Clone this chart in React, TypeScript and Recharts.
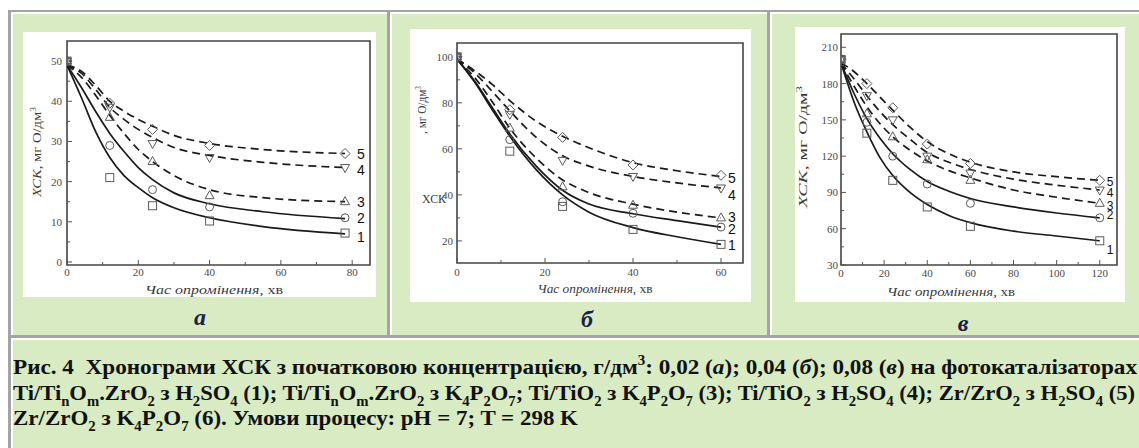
import React from "react";
import { ComposedChart, Line, Scatter, XAxis, YAxis, ReferenceArea } from "recharts";

// panel а — 0,02 г/дм3
const timeA = [0, 12, 24, 40, 78];
const codA1 = [50, 21, 14, 10.2, 7.2];
const codA2 = [50, 29, 18, 13.7, 11];
const codA3 = [50, 36, 25, 16.5, 15];
const codA4 = [50, 38.5, 29.5, 26, 23.5];
const codA5 = [50, 39.5, 33, 29, 27];
const fitTimeA = [0, 4, 8, 12, 16, 20, 24, 30, 40, 55, 78];
const fitA1 = [49, 41, 32.5, 26, 21.5, 18.5, 16, 13.5, 11, 8.8, 7];
const fitA2 = [49, 43.5, 37.5, 32, 27.5, 23.5, 20.5, 17.2, 14.5, 12.5, 10.8];
const fitA3 = [49, 46, 41.5, 36.5, 32, 28, 25, 21.5, 18, 16, 15];
const fitA4 = [49, 47, 43, 38.5, 35.5, 33, 31, 28.5, 26.5, 24.8, 23.5];
const fitA5 = [49, 47.5, 44, 40, 37.5, 35.5, 33.8, 31.5, 29.5, 28, 27];

// panel б — 0,04 г/дм3
const timeB = [0, 12, 24, 40, 60];
const codB1 = [100, 59, 35, 25, 18.5];
const codB2 = [100, 64, 37, 32, 26];
const codB3 = [100, 69, 43.5, 35.5, 30];
const codB4 = [100, 75, 55, 48, 43];
const codB5 = [100, 77, 65, 53, 48.5];
const fitTimeB = [0, 4, 8, 12, 18, 24, 30, 40, 50, 60];
const fitB1 = [99, 89, 77, 65.5, 51, 40, 32.5, 25.8, 21.8, 18.5];
const fitB2 = [99, 89.5, 78, 66.5, 52.5, 42, 36, 31.8, 28.8, 26];
const fitB3 = [99, 91, 80.5, 69, 56, 46.5, 41, 36, 32.5, 30];
const fitB4 = [99, 93, 85, 76.5, 65, 57, 52.5, 48, 45.2, 43];
const fitB5 = [99, 94, 88, 81, 72, 65.5, 60.5, 54, 50.5, 48];

// panel в — 0,08 г/дм3
const timeC = [0, 12, 24, 40, 60, 120];
const codC1 = [200, 139, 100, 78, 62, 50];
const codC2 = [200, 148, 120, 97, 81, 69];
const codC3 = [200, 155, 136, 117, 100, 81];
const codC4 = [200, 170, 150, 120, 106, 92];
const codC5 = [200, 180, 160, 130, 114, 100];
const fitTimeC = [0, 6, 12, 18, 24, 32, 40, 50, 60, 80, 100, 120];
const fitC1 = [197, 165, 140, 119, 104, 90, 80, 71, 65, 58, 54, 50];
const fitC2 = [197, 172, 151, 135, 122, 109, 99, 91, 85, 78, 73, 69];
const fitC3 = [197, 178, 161, 147, 136, 125, 116, 108, 102, 92, 86, 81];
const fitC4 = [197, 184, 170, 157, 146, 134, 123, 115, 109, 101, 96, 92];
const fitC5 = [197, 190, 180, 169, 158, 144, 132, 122, 115, 107, 103, 100];

const seriesNames = ["1", "2", "3", "4", "5"];

const captionLines = [
  "Рис. 4  Хронограми ХСК з початковою концентрацією, г/дм^3: 0,02 (*а*); 0,04 (*б*); 0,08 (*в*) на фотокаталізаторах",
  "Ti/Ti_nO_m.ZrO_2 з H_2SO_4 (1); Ti/Ti_nO_m.ZrO_2 з K_4P_2O_7; Ti/TiO_2 з K_4P_2O_7 (3); Ti/TiO_2 з H_2SO_4 (4); Zr/ZrO_2 з H_2SO_4 (5)",
  "Zr/ZrO_2 з K_4P_2O_7 (6). Умови процесу: pH = 7; T = 298 K",
];

const GREEN = "#d8ebc3";
const SERIF = "Liberation Serif, Times New Roman, serif";
const KINDS = ["square", "circle", "up", "down", "diamond"];

const zip = (xs: number[], ys: number[]) => xs.map((x, i) => ({ x, y: ys[i] }));
const range = (a: number, b: number, s: number) => {
  const out: number[] = [];
  for (let v = a; v <= b + 1e-9; v += s) out.push(v);
  return out;
};

function parseRich(s: string) {
  const segs: { t: string; k: string }[] = [];
  let buf = "";
  let italic = false;
  const flush = () => {
    if (buf) segs.push({ t: buf, k: italic ? "i" : "n" });
    buf = "";
  };
  for (let i = 0; i < s.length; i++) {
    const c = s[i];
    if (c === "_" || c === "^") {
      flush();
      segs.push({ t: s[i + 1], k: c === "_" ? "sub" : "sup" });
      i++;
    } else if (c === "*") {
      flush();
      italic = !italic;
    } else buf += c;
  }
  flush();
  return segs;
}

function Rich({ x, y, s, size, len, weight = "normal", anchor = "start", fill = "#111", transform }: any) {
  let off = 0;
  return (
    <text
      x={x}
      y={y}
      transform={transform}
      textAnchor={anchor}
      textLength={len}
      lengthAdjust="spacingAndGlyphs"
      fill={fill}
      style={{ whiteSpace: "pre", fontFamily: SERIF, fontSize: size, fontWeight: weight }}
    >
      {parseRich(s).map((g, i) => {
        const target = g.k === "sub" ? size * 0.25 : g.k === "sup" ? -size * 0.4 : 0;
        const dy = target - off;
        off = target;
        const small = g.k === "sub" || g.k === "sup";
        return (
          <tspan key={i} dy={dy} style={{ fontSize: small ? size * 0.65 : size, fontStyle: g.k === "i" ? "italic" : "normal" }}>
            {g.t}
          </tspan>
        );
      })}
    </text>
  );
}

function Marker({ cx, cy, kind }: any) {
  if (cx == null || cy == null) return null;
  const st = { fill: "none", stroke: "#5a5a5a", strokeWidth: 1 };
  const r = 4;
  if (kind === "square") return <rect x={cx - r} y={cy - r} width={2 * r} height={2 * r} {...st} />;
  if (kind === "circle") return <circle cx={cx} cy={cy} r={r} {...st} />;
  if (kind === "up") return <polygon points={`${cx},${cy - r - 1} ${cx - r - 0.5},${cy + r - 1} ${cx + r + 0.5},${cy + r - 1}`} {...st} />;
  if (kind === "down") return <polygon points={`${cx},${cy + r + 1} ${cx - r - 0.5},${cy - r + 1} ${cx + r + 0.5},${cy - r + 1}`} {...st} />;
  return <polygon points={`${cx},${cy - r - 1} ${cx + r + 1},${cy} ${cx},${cy + r + 1} ${cx - r - 1},${cy}`} {...st} />;
}

const tickText = { fontFamily: SERIF, fontSize: 11 };

function XTick({ x, y, payload, major, gap }: any) {
  const isMajor = major.includes(payload.value);
  return (
    <g>
      <line x1={x} y1={y} x2={x} y2={y - (isMajor ? 5 : 3)} stroke="#555" />
      {isMajor && (
        <text x={x} y={y + gap} textAnchor="middle" fill="#4a4a4a" style={tickText}>
          {payload.value}
        </text>
      )}
    </g>
  );
}

function YTick({ x, y, payload, major, gap }: any) {
  const isMajor = major.includes(payload.value);
  return (
    <g>
      <line x1={x} y1={y} x2={x + (isMajor ? 5 : 3)} y2={y} stroke="#555" />
      {isMajor && (
        <text x={x - gap} y={y + 4} textAnchor="end" fill="#4a4a4a" style={tickText}>
          {payload.value}
        </text>
      )}
    </g>
  );
}

const panels = [
  {
    key: "a",
    box: { left: 23, top: 32, width: 353, height: 265 },
    m: { left: 44, right: 6, top: 9, bottom: 32 },
    xDomain: [0, 85], xTicks: range(0, 80, 10), xMajor: range(0, 80, 20),
    yDomain: [-0.75, 55], yTicks: range(0, 50, 5), yMajor: range(0, 50, 10),
    xGap: 11, yGap: 5,
    points: [codA1, codA2, codA3, codA4, codA5].map((c) => zip(timeA, c)),
    fits: [fitA1, fitA2, fitA3, fitA4, fitA5].map((c) => zip(fitTimeA, c)),
    labelDx: 12, labelDy: [4, 0, 0, 2, 0], labelSize: 14,
  },
  {
    key: "b",
    box: { left: 410, top: 29, width: 341, height: 273 },
    m: { left: 47, right: 8, top: 14, bottom: 39 },
    xDomain: [0, 65], xTicks: range(0, 60, 10), xMajor: range(0, 60, 20),
    yDomain: [10.4, 106], yTicks: range(20, 100, 10), yMajor: range(20, 100, 20),
    xGap: 13, yGap: 4,
    points: [codB1, codB2, codB3, codB4, codB5].map((c) => zip(timeB, c)),
    fits: [fitB1, fitB2, fitB3, fitB4, fitB5].map((c) => zip(fitTimeB, c)),
    labelDx: 7, labelDy: [1, 2, -1, 7, 3], labelSize: 14,
  },
  {
    key: "c",
    box: { left: 795, top: 27, width: 330, height: 275 },
    m: { left: 46, right: 8, top: 7, bottom: 37 },
    xDomain: [0, 128], xTicks: range(0, 120, 10), xMajor: range(0, 120, 20),
    yDomain: [30, 221], yTicks: range(30, 210, 15), yMajor: range(30, 210, 30),
    xGap: 12, yGap: 3,
    points: [codC1, codC2, codC3, codC4, codC5].map((c) => zip(timeC, c)),
    fits: [fitC1, fitC2, fitC3, fitC4, fitC5].map((c) => zip(fitTimeC, c)),
    labelDx: 7, labelDy: [9, -3, 2, 3, 1], labelSize: 12,
  },
];

function Panel({ p }: any) {
  const { box, m } = p;
  return (
    <div style={{ position: "absolute", left: box.left, top: box.top, width: box.width, height: box.height, background: "#fff" }}>
      <ComposedChart width={box.width} height={box.height} margin={{ top: m.top, right: m.right, bottom: 0, left: 0 }}>
        <XAxis
          type="number"
          dataKey="x"
          domain={p.xDomain}
          ticks={p.xTicks}
          interval={0}
          allowDataOverflow
          height={m.bottom}
          axisLine={false}
          tickLine={false}
          tickSize={0}
          tickMargin={0}
          tick={(t: any) => <XTick {...t} major={p.xMajor} gap={p.xGap} />}
        />
        <YAxis
          type="number"
          dataKey="y"
          domain={p.yDomain}
          ticks={p.yTicks}
          interval={0}
          allowDataOverflow
          width={m.left}
          axisLine={false}
          tickLine={false}
          tickSize={0}
          tickMargin={0}
          tick={(t: any) => <YTick {...t} major={p.yMajor} gap={p.yGap} />}
        />
        <ReferenceArea
          x1={p.xDomain[0]}
          x2={p.xDomain[1]}
          y1={p.yDomain[0]}
          y2={p.yDomain[1]}
          fill="none"
          fillOpacity={0}
          stroke="#444"
          strokeWidth={1.6}
        />
        {p.fits.map((f: any, i: number) => (
          <Line
            key={"f" + i}
            data={f}
            dataKey="y"
            type="monotone"
            stroke="#1a1a1a"
            strokeWidth={1.7}
            strokeDasharray={i >= 2 ? "8 5" : undefined}
            dot={false}
            activeDot={false}
            isAnimationActive={false}
          />
        ))}
        {p.points.map((pts: any, i: number) => (
          <Scatter
            key={"p" + i}
            data={pts}
            dataKey="y"
            isAnimationActive={false}
            shape={(sp: any) => <Marker {...sp} kind={KINDS[i]} />}
          />
        ))}
        {p.points.map((pts: any, i: number) => (
          <Scatter
            key={"l" + i}
            data={[pts[pts.length - 1]]}
            dataKey="y"
            isAnimationActive={false}
            shape={(sp: any) => (
              <text
                x={sp.cx + p.labelDx}
                y={sp.cy + p.labelDy[i] + p.labelSize * 0.36}
                fill="#111"
                style={{ fontSize: p.labelSize, fontFamily: "Liberation Sans, Arial, sans-serif" }}
              >
                {seriesNames[i]}
              </text>
            )}
          />
        ))}
      </ComposedChart>
    </div>
  );
}

const cellStyle = (left: number, top: number, width: number, height: number, bg: string): React.CSSProperties => ({
  position: "absolute", left, top, width, height, background: bg,
});

export default function App() {
  return (
    <div style={{ position: "absolute", left: 0, top: 0, width: 1139, height: 448, overflow: "hidden", background: "#fff" }}>
      <div style={cellStyle(8, 10, 1140, 440, "#a4a4a4")} />
      <div style={cellStyle(11, 12, 376, 323, "#fff")} />
      <div style={cellStyle(13, 14, 374, 321, GREEN)} />
      <div style={cellStyle(390, 12, 377, 323, "#fff")} />
      <div style={cellStyle(392, 14, 375, 321, GREEN)} />
      <div style={cellStyle(770, 12, 380, 323, "#fff")} />
      <div style={cellStyle(772, 14, 380, 321, GREEN)} />
      <div style={cellStyle(11, 338, 1140, 120, "#fff")} />
      <div style={cellStyle(13, 340, 1140, 120, GREEN)} />

      {panels.map((p) => (
        <Panel key={p.key} p={p} />
      ))}

      <svg width={1139} height={448} style={{ position: "absolute", left: 0, top: 0, pointerEvents: "none" }}>
        {/* axis titles */}
        <Rich x={214} y={294} s="*Час опромінення*, хв" size={12} len={138} anchor="middle" fill="#3a3a3a" />
        <Rich x={595} y={293} s="*Час опромінення*, хв" size={12} len={115} anchor="middle" fill="#3a3a3a" />
        <Rich x={951} y={296} s="*Час опромінення*, хв" size={12} len={128} anchor="middle" fill="#3a3a3a" />
        <Rich x={0} y={0} transform="translate(41,152) rotate(-90)" s="*ХСК*, мг О/дм^3" size={12} len={90} anchor="middle" fill="#3a3a3a" />
        <Rich x={0} y={0} transform="translate(426,110) rotate(-90)" s=", мг О/дм^3" size={12} len={48} anchor="middle" fill="#3a3a3a" />
        <Rich x={434} y={203} s="ХСК" size={12} len={24} anchor="middle" fill="#3a3a3a" />
        <Rich x={0} y={0} transform="translate(807,147) rotate(-90)" s="*ХСК*, мг О/дм^3" size={12} len={122} anchor="middle" fill="#3a3a3a" />

        {/* panel letters */}
        {[
          { x: 200, y: 325, t: "а" },
          { x: 587, y: 327, t: "б" },
          { x: 963, y: 331, t: "в" },
        ].map((l) => (
          <text
            key={l.t}
            x={l.x}
            y={l.y}
            textAnchor="middle"
            fill="#1b1f4a"
            style={{ fontSize: 24, fontWeight: "bold", fontStyle: "italic", fontFamily: SERIF }}
          >
            {l.t}
          </text>
        ))}

        {/* caption */}
        <Rich x={13} y={374} s={captionLines[0]} size={22} len={1124} weight="bold" />
        <Rich x={13} y={400} s={captionLines[1]} size={22} len={1122} weight="bold" />
        <Rich x={13} y={425} s={captionLines[2]} size={22} len={565} weight="bold" />
      </svg>
    </div>
  );
}
